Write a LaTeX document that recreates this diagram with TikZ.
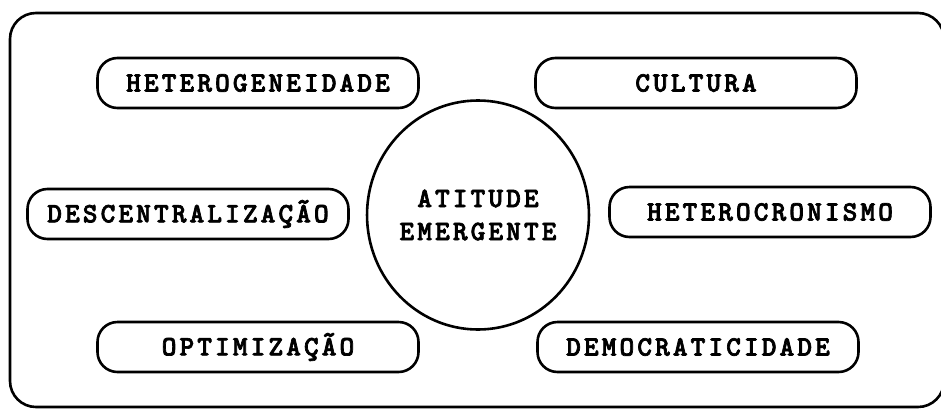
\documentclass[tikz,border=0pt]{standalone}
\usepackage{fontspec}
\usepackage{tikz}
\usetikzlibrary{shapes.geometric}
\newfontfamily\boxfont[LetterSpace=11,FakeBold=2.5]{lmmonolt10-bold.otf}

\begin{document}
\begin{tikzpicture}[x=1pt, y=-1pt, line width=2.6pt,
    idea/.style={draw, rounded corners=20pt, minimum width=321pt,
                 minimum height=50pt, inner sep=0pt,
                 font=\boxfont\fontsize{28}{33}\selectfont},
    core/.style={draw, ellipse, minimum width=221pt, minimum height=229pt,
                 inner sep=0pt, align=center,
                 font=\boxfont\fontsize{28}{33}\selectfont}]
  \useasboundingbox (0,0) rectangle (941,410);
  % outer frame
  \draw[rounded corners=26pt] (10,13) rectangle (944,407);
  % centre
  \node[core] (atitude) at (478,215) {ATITUDE\\EMERGENTE};
  % left column
  \node[idea] (heterog) at (258,83) {HETEROGENEIDADE};
  \node[idea] (descent) at (188,214) {DESCENTRALIZAÇÃO};
  \node[idea] (optim) at (258,347) {OPTIMIZAÇÃO};
  % right column
  \node[idea] (cultura) at (696,83) {CULTURA};
  \node[idea] (heteroc) at (770,212) {HETEROCRONISMO};
  \node[idea] (democr) at (698,347) {DEMOCRATICIDADE};
\end{tikzpicture}
\end{document}
